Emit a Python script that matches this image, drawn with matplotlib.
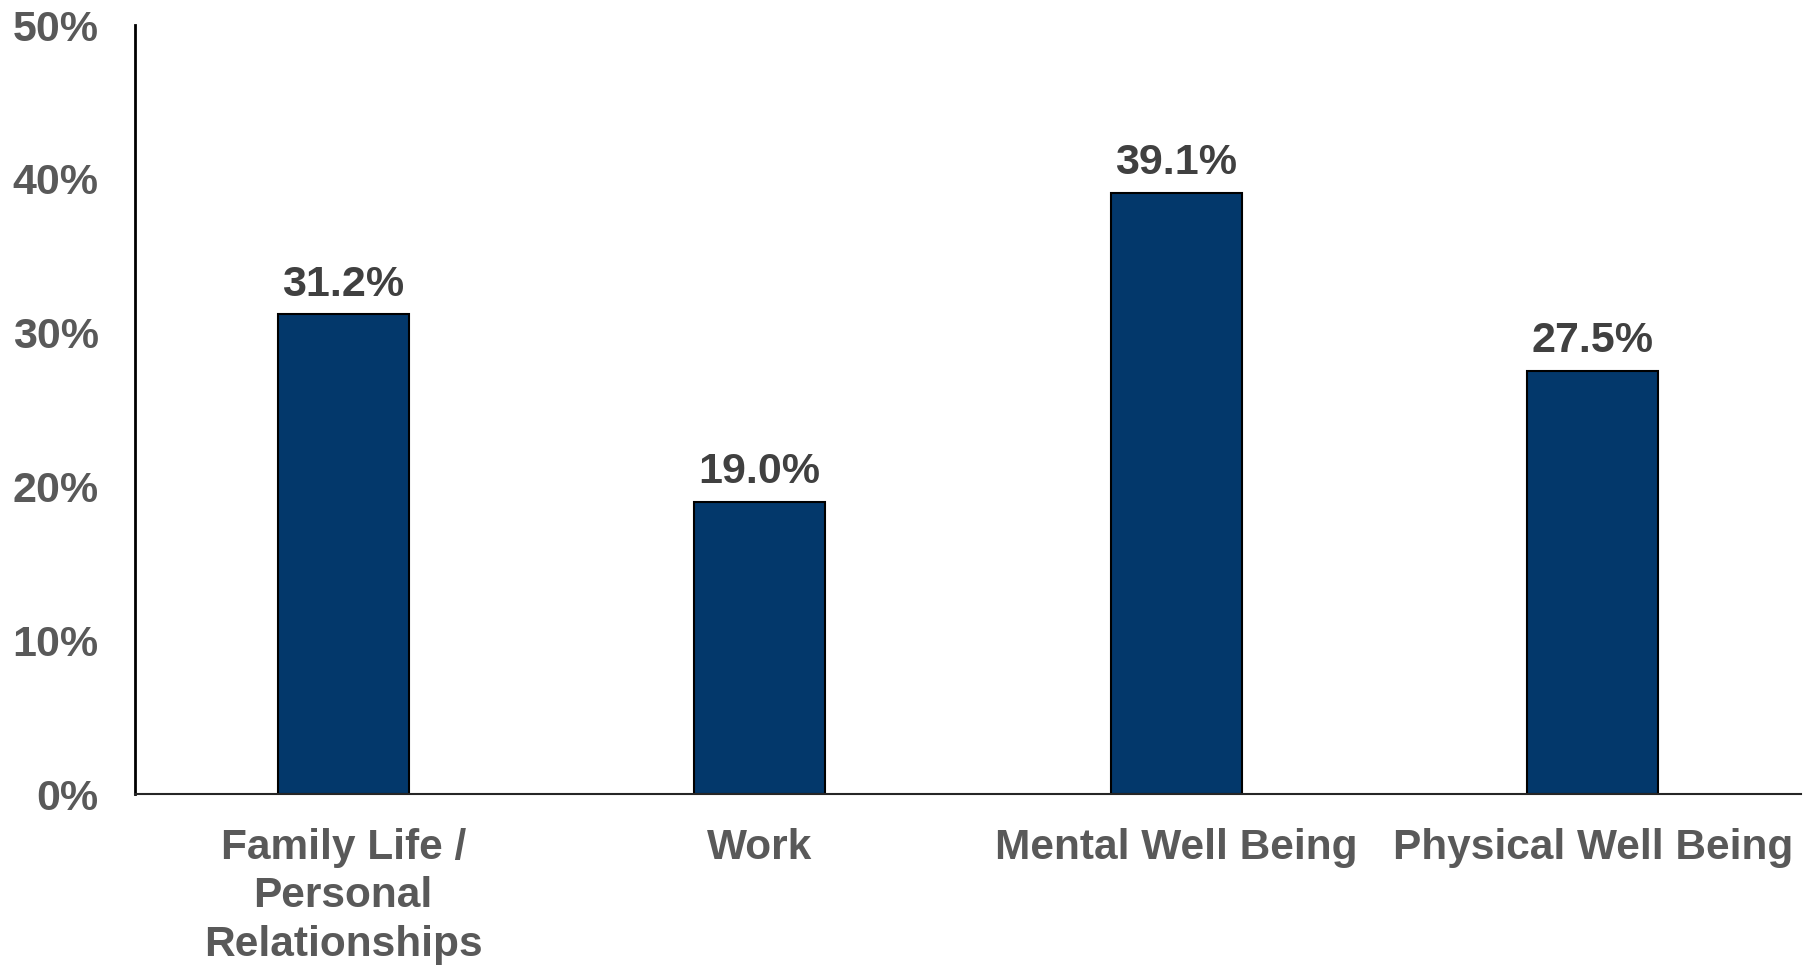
import matplotlib.pyplot as plt
from matplotlib.ticker import PercentFormatter

categories = ["Family Life /\nPersonal\nRelationships", "Work",
              "Mental Well Being", "Physical Well Being"]
values = [31.2, 19.0, 39.1, 27.5]
yticks = [0, 10, 20, 30, 40, 50]

plt.rcParams['font.family'] = ['Liberation Sans', 'DejaVu Sans']
plt.rcParams['font.weight'] = 'bold'

fig = plt.figure(figsize=(18.11, 9.66), dpi=100)
ax = fig.add_axes([0.0745, 0.178, 0.92, 0.796])

bars = ax.bar(range(len(values)), values, width=0.315,
              color="#03386b", edgecolor="black", linewidth=1.5)
ax.bar_label(bars, labels=[f"{v:.1f}%" for v in values], padding=7,
             fontsize=31, fontweight='bold', color="#404040")

ax.set_xlim(-0.5, len(values) - 0.5)
ax.set_ylim(0, 50)
ax.set_yticks(yticks)
ax.yaxis.set_major_formatter(PercentFormatter(decimals=0))
ax.set_xticks(range(len(values)))
ax.set_xticklabels(categories, linespacing=1.27)

ax.tick_params(axis='y', length=0, pad=26, labelsize=31, labelcolor="#595959")
ax.tick_params(axis='x', length=0, pad=24.5, labelsize=30.5, labelcolor="#595959")

for side in ("top", "right"):
    ax.spines[side].set_visible(False)
ax.spines["left"].set_linewidth(2)
ax.spines["bottom"].set_linewidth(1.5)
ax.spines["bottom"].set_color("#262626")

fig.savefig("out.png", dpi=100)
